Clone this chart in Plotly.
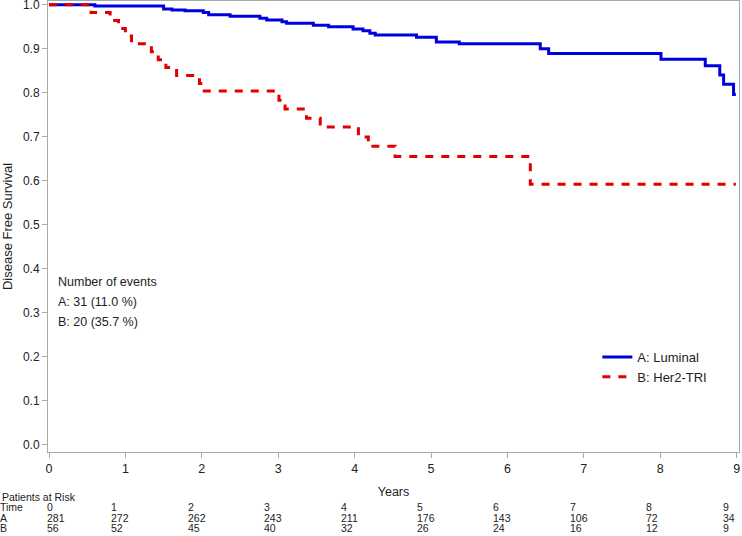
import plotly.graph_objects as go

# ---- Data ----
# Group A: Luminal (Kaplan-Meier step points)
time_A = [0.00, 0.60, 1.50, 1.61, 1.78, 2.02, 2.09, 2.37, 2.76, 2.85, 3.05, 3.11,
          3.46, 3.66, 3.98, 4.11, 4.20, 4.27, 4.81, 5.07, 5.37, 6.43, 6.54, 8.01,
          8.59, 8.78, 8.83, 8.96, 8.99]
surv_A = [1.000, 0.997, 0.990, 0.988, 0.986, 0.982, 0.977, 0.974, 0.969, 0.965, 0.961, 0.958,
          0.953, 0.950, 0.945, 0.941, 0.935, 0.931, 0.926, 0.915, 0.911, 0.900, 0.889, 0.876,
          0.861, 0.840, 0.819, 0.796, 0.796]

# Group B: Her2-TRI
time_B = [0.00, 0.55, 0.80, 0.91, 1.00, 1.08, 1.34, 1.43, 1.53, 1.67, 1.97, 2.01,
          3.01, 3.09, 3.37, 3.55, 4.05, 4.18, 4.53, 6.30, 8.99]
surv_B = [1.000, 0.982, 0.964, 0.946, 0.929, 0.911, 0.893, 0.875, 0.857, 0.839, 0.821, 0.804,
          0.783, 0.763, 0.742, 0.722, 0.699, 0.678, 0.655, 0.592, 0.592]

series_names = ["A: Luminal", "B: Her2-TRI"]

# Patients at risk table
risk_times = [0, 1, 2, 3, 4, 5, 6, 7, 8, 9]
risk_A = [281, 272, 262, 243, 211, 176, 143, 106, 72, 34]
risk_B = [56, 52, 45, 40, 32, 26, 24, 16, 12, 9]

events_lines = ["Number of events", "A: 31 (11.0 %)", "B: 20 (35.7 %)"]

y_ticks = [0.0, 0.1, 0.2, 0.3, 0.4, 0.5, 0.6, 0.7, 0.8, 0.9, 1.0]

# ---- Figure ----
FONT = "Liberation Sans, Arial, sans-serif"
AXIS_GREY = "#a8a8a8"
TXT = "#222222"

fig = go.Figure()
fig.add_trace(go.Scatter(x=time_A, y=surv_A, mode="lines", name=series_names[0],
                         line=dict(color="#0000DC", width=3, shape="hv")))
fig.add_trace(go.Scatter(x=time_B, y=surv_B, mode="lines", name=series_names[1],
                         line=dict(color="#E00000", width=3, shape="hv", dash="8px,8px")))

annotations = []
# number of events text
ev_y = [0.377, 0.333, 0.288]
for txt, yy in zip(events_lines, ev_y):
    annotations.append(dict(text=txt, xref="paper", yref="paper", x=0.012, y=yy,
                            xanchor="left", yanchor="middle", showarrow=False,
                            font=dict(family=FONT, size=12.5, color=TXT)))

# patients at risk table
row_y = {"head": -0.1, "time": -0.123, "A": -0.146, "B": -0.168}
tfont = dict(family=FONT, size=10.5, color=TXT)
annotations.append(dict(text="Patients at Risk", xref="paper", yref="paper", x=-0.07, y=row_y["head"],
                        xanchor="left", yanchor="middle", showarrow=False, font=tfont))
for lab, key in [("Time", "time"), ("A", "A"), ("B", "B")]:
    annotations.append(dict(text=lab, xref="paper", yref="paper", x=-0.072, y=row_y[key],
                            xanchor="left", yanchor="middle", showarrow=False, font=tfont))
for i, t in enumerate(risk_times):
    shift = -4 if i == 0 else -16
    for val, key in [(t, "time"), (risk_A[i], "A"), (risk_B[i], "B")]:
        annotations.append(dict(text=str(val), xref="x", yref="paper", x=t, y=row_y[key],
                                xanchor="left", yanchor="middle", xshift=shift, showarrow=False,
                                font=tfont))

fig.update_layout(
    width=742, height=536,
    margin=dict(l=48, r=3, t=1, b=84, autoexpand=False),
    paper_bgcolor="white", plot_bgcolor="white",
    font=dict(family=FONT, size=12, color=TXT),
    showlegend=True,
    legend=dict(x=0.795, y=0.244, xanchor="left", yanchor="top",
                bgcolor="rgba(0,0,0,0)", borderwidth=0,
                font=dict(family=FONT, size=13, color=TXT),
                itemwidth=30, tracegroupgap=0),
    xaxis=dict(range=[-0.0131, 9.0314], tickmode="array", tickvals=risk_times,
               ticktext=[str(t) for t in risk_times], automargin=False,
               ticklabeloverflow="allow",
               showline=True, linecolor=AXIS_GREY, linewidth=1, mirror=True,
               ticks="outside", ticklen=5, tickcolor=AXIS_GREY, showgrid=False, zeroline=False,
               tickfont=dict(family=FONT, size=12.5, color=TXT),
               title=dict(text="Years", standoff=12, font=dict(family=FONT, size=12.5, color=TXT))),
    yaxis=dict(range=[-0.0171, 1.0084], tickmode="array", tickvals=y_ticks,
               ticktext=[f"{v:.1f}" for v in y_ticks], automargin=False,
               ticklabeloverflow="allow",
               showline=True, linecolor=AXIS_GREY, linewidth=1, mirror=True,
               ticks="outside", ticklen=5, tickcolor=AXIS_GREY, showgrid=False, zeroline=False,
               tickfont=dict(family=FONT, size=12, color=TXT),
               title=dict(text="Disease Free Survival", standoff=8,
                          font=dict(family=FONT, size=13, color=TXT))),
    annotations=annotations,
)

fig.write_html("out.html", config={"displayModeBar": False},
               post_script="document.body.style.margin='0';document.body.style.overflow='hidden';")
